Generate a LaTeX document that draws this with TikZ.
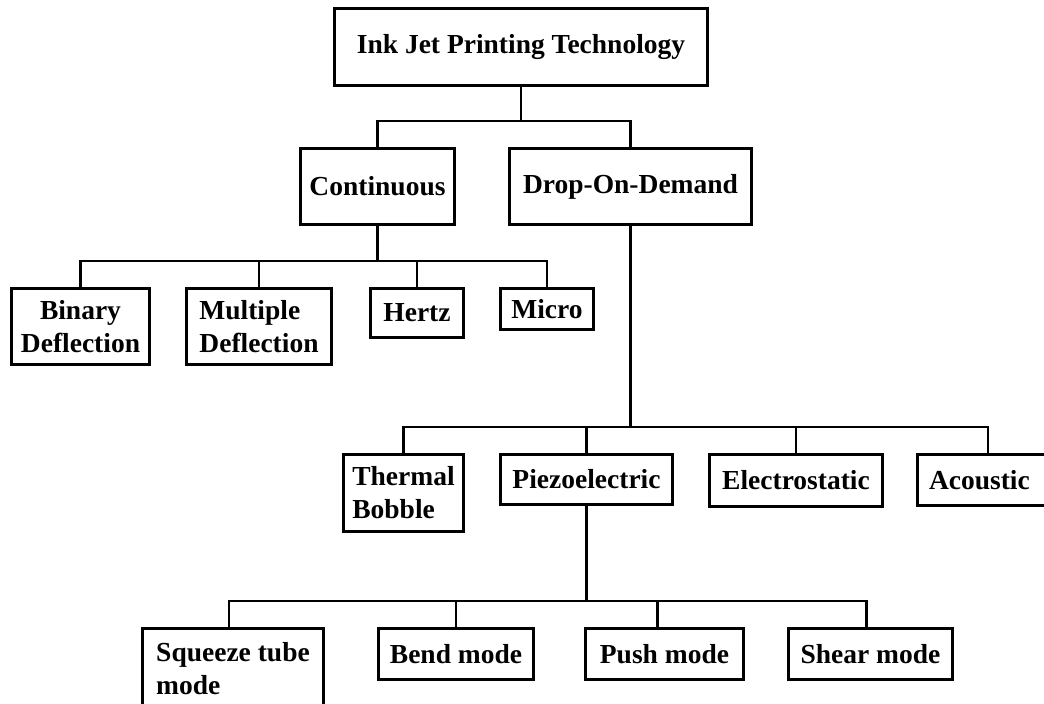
\documentclass[tikz,border=0pt]{standalone}
\usepackage{fontspec}
\setmainfont{Liberation Serif}
\begin{document}
\begin{tikzpicture}[x=1pt,y=-1pt,
  box/.style={draw=black, line width=3pt, fill=white, inner sep=0pt, align=center,
    font=\bfseries\fontsize{27.5}{33}\selectfont},
  lbox/.style={box, align=left},
  conn/.style={draw=black, line width=2.6pt}]
\clip (0,0) rectangle (1044,704);
\fill[white] (0,0) rectangle (1044,704);
% level 0
\node[box, minimum width=373, minimum height=77] (top) at (521,47) {Ink Jet Printing Technology};
% level 1
\node[box, minimum width=154, minimum height=76] (cont) at (377.5,186.5) {Continuous};
\node[box, minimum width=242, minimum height=76] (dod) at (630.5,186.5) {Drop-On-Demand};
% level 2 (continuous)
\node[box, minimum width=138, minimum height=76] (binary) at (80.5,326.5) {Binary\\Deflection};
\node[lbox, minimum width=145, minimum height=76] (multiple) at (259,326.5) {Multiple\\Deflection};
\node[box, minimum width=93, minimum height=49] (hertz) at (417,313) {Hertz};
\node[box, minimum width=93, minimum height=41] (micro) at (547,309) {Micro};
% level 2 (drop-on-demand)
\node[lbox, minimum width=120, minimum height=77] (thermal) at (403.5,493) {Thermal\\Bobble};
\node[box, minimum width=172, minimum height=50] (piezo) at (586.5,479.5) {Piezoelectric};
\node[box, minimum width=173, minimum height=52] (electro) at (796,480.5) {Electrostatic};
\node[lbox, text width=118, minimum width=141, minimum height=51] (acoustic) at (988,480) {Acoustic};
% level 3 (piezoelectric)
\node[lbox, minimum width=181, minimum height=82] (squeeze) at (233,669) {Squeeze tube\\mode};
\node[box, minimum width=155, minimum height=51] (bend) at (456,654) {Bend mode};
\node[box, minimum width=158, minimum height=51] (push) at (664.5,654) {Push mode};
\node[box, minimum width=164, minimum height=51] (shear) at (870.5,654) {Shear mode};
% junctions
\coordinate (j1) at (521,121);
\coordinate (j2) at (377.5,261);
\coordinate (j3) at (630.5,427);
\coordinate (j4) at (586.5,601);
% connectors
\draw[conn] (top.south) -- (j1);
\draw[conn] (cont.north) |- (j1) -| (dod.north);
\draw[conn] (cont.south) -- (j2);
\draw[conn] (binary.north) |- (j2) -| (micro.north);
\draw[conn] (multiple.north) |- (j2);
\draw[conn] (hertz.north) |- (j2);
\draw[conn] (dod.south) -- (j3);
\draw[conn] (thermal.north) |- (j3) -| (acoustic.north);
\draw[conn] (piezo.north) |- (j3);
\draw[conn] (electro.north) |- (j3);
\draw[conn] (piezo.south) -- (j4);
\draw[conn] ([xshift=-4pt]squeeze.north) |- (j4) -| ([xshift=-4pt]shear.north);
\draw[conn] (bend.north) |- (j4);
\draw[conn] ([xshift=-7pt]push.north) |- (j4);
\end{tikzpicture}
\end{document}
